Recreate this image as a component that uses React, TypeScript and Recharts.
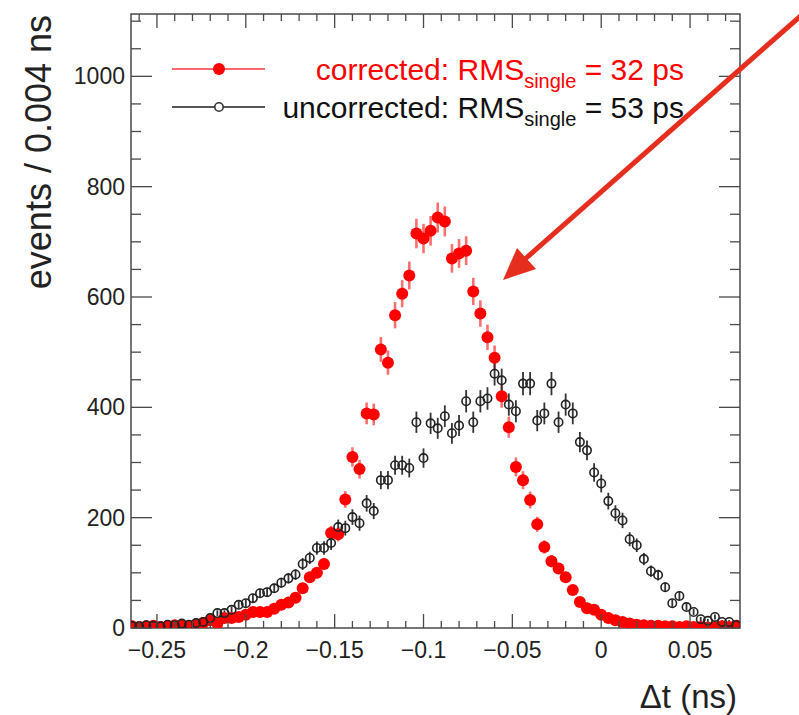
import React from 'react';
import { ScatterChart, Scatter, XAxis, YAxis, ErrorBar, ReferenceArea, Legend } from 'recharts';

// histogram binning: 0.004 ns bins, first bin centre at -0.264 ns
const binWidth = 0.004;
const firstBinCenter = -0.264;

// events per bin (86 bins, -0.264 ... 0.076)
const correctedCounts = [
  3, 2, 3, 4, 2, 3, 5, 4, 3, 6,
  9, 14, 8, 18, 18, 20, 24, 29, 29, 29,
  35, 42, 46, 55, 72, 92, 100, 116, 172, 170,
  233, 310, 288, 389, 387, 505, 481, 567, 606, 639,
  715, 706, 720, 744, 737, 670, 679, 684, 610, 570,
  527, 490, 420, 364, 292, 268, 232, 188, 147, 121,
  108, 92, 69, 47, 36, 33, 24, 18, 14, 11,
  8, 6, 5, 4, 4, 3, 3, 2, 3, 2,
  2, 1, 2, 3, 2, 4,
];

const uncorrectedCounts = [
  4, 3, 5, 4, 3, 6, 5, 8, 6, 9,
  11, 18, 27, 27, 33, 42, 45, 54, 63, 65,
  72, 82, 90, 97, 116, 127, 145, 145, 154, 183,
  181, 201, 190, 226, 212, 268, 268, 295, 295, 290,
  373, 308, 371, 362, 384, 353, 367, 411, 373, 411,
  416, 461, 449, 405, 393, 443, 443, 376, 389, 443,
  373, 405, 389, 337, 322, 282, 262, 230, 208, 195,
  161, 150, 125, 103, 96, 74, 45, 58, 38, 29,
  16, 13, 20, 11, 11, 5,
];

const seriesNames = ['corrected', 'uncorrected'];
const rmsSingle = [32, 53];

const xMajorTicks = [-0.25, -0.2, -0.15, -0.1, -0.05, 0, 0.05];
const xMajorLabels = ['\u22120.25', '\u22120.2', '\u22120.15', '\u22120.1', '\u22120.05', '0', '0.05'];
const yMajorTicks = [0, 200, 400, 600, 800, 1000];
const yMajorLabels = ['0', '200', '400', '600', '800', '1000'];

const X_DOMAIN: [number, number] = [-0.2646, 0.0781];
const Y_DOMAIN: [number, number] = [0, 1113];

// minor tick grid (0.01 ns on x, 50 events on y)
const xTicks = Array.from({ length: 34 }, (_, i) => Math.round((-0.26 + i * 0.01) * 1000) / 1000);
const yTicks = Array.from({ length: 23 }, (_, i) => i * 50);

const W = 799;
const H = 715;
const PLOT_LEFT = 131;
const PLOT_RIGHT = 740;
const PLOT_TOP = 14;
const PLOT_BOTTOM = 628;
const PLOT_W = PLOT_RIGHT - PLOT_LEFT;
const PLOT_H = PLOT_BOTTOM - PLOT_TOP;

const FONT = '"Liberation Sans", Arial, Helvetica, sans-serif';
const FRAME = '#4a4a4a';
const RED = '#ff0000';

function toPoints(counts: number[]) {
  return counts.map((n, i) => ({
    x: Math.round((firstBinCenter + i * binWidth) * 10000) / 10000,
    y: n,
    err: Math.sqrt(n),
  }));
}

const correctedData = toPoints(correctedCounts);
const uncorrectedData = toPoints(uncorrectedCounts);

function majorIndex(list: number[], v: number) {
  return list.findIndex((m) => Math.abs(m - v) < 1e-6);
}

function XTick(props: any) {
  const { x, y, payload } = props;
  const idx = majorIndex(xMajorTicks, payload.value);
  const len = idx >= 0 ? 14 : 7;
  const top = y - PLOT_H;
  return (
    <g>
      <line x1={x} x2={x} y1={y} y2={y - len} stroke={FRAME} strokeWidth={1.3} />
      <line x1={x} x2={x} y1={top} y2={top + len} stroke={FRAME} strokeWidth={1.3} />
      {idx >= 0 && (
        <text x={x} y={y + 30} textAnchor="middle" fontSize={23} fontFamily={FONT} fill="#222">
          {xMajorLabels[idx]}
        </text>
      )}
    </g>
  );
}

function YTick(props: any) {
  const { x, y, payload } = props;
  const idx = majorIndex(yMajorTicks, payload.value);
  const len = idx >= 0 ? 21 : 10;
  const right = x + PLOT_W;
  return (
    <g>
      <line x1={x} x2={x + len} y1={y} y2={y} stroke={FRAME} strokeWidth={1.3} />
      <line x1={right} x2={right - len} y1={y} y2={y} stroke={FRAME} strokeWidth={1.3} />
      {idx >= 0 && (
        <text x={x - 6} y={y + 8} textAnchor="end" fontSize={23} fontFamily={FONT} fill="#222">
          {yMajorLabels[idx]}
        </text>
      )}
    </g>
  );
}

function YTitle() {
  return (
    <text
      x={51}
      y={PLOT_TOP + 1}
      transform={`rotate(-90, 51, ${PLOT_TOP + 1})`}
      textAnchor="end"
      fontSize={36}
      fontFamily={FONT}
      fill="#222"
    >
      events / 0.004 ns
    </text>
  );
}

function XTitle() {
  return (
    <text x={PLOT_RIGHT - 3} y={708} textAnchor="end" fontSize={33} fontFamily={FONT} fill="#222">
      Δt (ns)
    </text>
  );
}

const filledDot = (p: any) => <circle cx={p.cx} cy={p.cy} r={6} fill={RED} />;
const openDot = (p: any) => (
  <circle cx={p.cx} cy={p.cy} r={4.2} fill="none" stroke="#222" strokeWidth={1.6} />
);

function LegendBox() {
  const rows = [
    { y: 69, color: RED, line: '#ff6a6a', filled: true },
    { y: 107, color: '#111', line: '#555', filled: false },
  ];
  return (
    <svg width={W} height={140}>
      {rows.map((r, i) => (
        <g key={seriesNames[i]}>
          <line x1={172} x2={265} y1={r.y} y2={r.y} stroke={r.line} strokeWidth={2} />
          {r.filled ? (
            <circle cx={219} cy={r.y} r={6} fill={RED} />
          ) : (
            <circle cx={219} cy={r.y} r={4.2} fill="#fff" stroke="#333" strokeWidth={1.6} />
          )}
          <text x={684} y={r.y + 11} textAnchor="end" fontSize={30} fontFamily={FONT} fill={r.color}>
            {seriesNames[i]}: RMS
            <tspan fontSize={20} dy={8}>single</tspan>
            <tspan dy={-8}>{` = ${rmsSingle[i]} ps`}</tspan>
          </text>
        </g>
      ))}
    </svg>
  );
}

function Arrow() {
  // annotation arrow pointing at the corrected peak
  return (
    <svg width={W} height={H} style={{ position: 'absolute', left: 0, top: 0, pointerEvents: 'none' }}>
      <line x1={805} y1={12} x2={524} y2={260} stroke="#e62e1f" strokeWidth={5} />
      <polygon points="503,280 536,269 517,248" fill="#e62e1f" />
    </svg>
  );
}

export default function App() {
  return (
    <div style={{ position: 'relative', width: W, height: H, background: '#fff' }}>
      <style>{'body{margin:0}'}</style>
      <ScatterChart width={W} height={H} margin={{ top: PLOT_TOP, right: W - PLOT_RIGHT, bottom: 27, left: 0 }}>
        <XAxis
          type="number"
          dataKey="x"
          domain={X_DOMAIN}
          ticks={xTicks}
          interval={0}
          tickSize={0}
          tickMargin={0}
          tickLine={false}
          axisLine={false}
          tick={<XTick />}
          height={60}
          allowDataOverflow
          label={<XTitle />}
        />
        <YAxis
          type="number"
          dataKey="y"
          domain={Y_DOMAIN}
          ticks={yTicks}
          interval={0}
          tickSize={0}
          tickMargin={0}
          tickLine={false}
          axisLine={false}
          tick={<YTick />}
          width={PLOT_LEFT}
          allowDataOverflow
          label={<YTitle />}
        />
        <ReferenceArea
          x1={X_DOMAIN[0]}
          x2={X_DOMAIN[1]}
          y1={Y_DOMAIN[0]}
          y2={Y_DOMAIN[1]}
          fill="none"
          stroke={FRAME}
          strokeWidth={1.5}
        />
        <Legend
          verticalAlign="middle"
          align="center"
          layout="horizontal"
          content={() => <LegendBox />}
          wrapperStyle={{ position: 'absolute', left: 0, top: 0, width: W, height: 140 }}
        />
        <Scatter
          name={seriesNames[0]}
          data={correctedData}
          fill={RED}
          shape={filledDot}
          isAnimationActive={false}
        >
          <ErrorBar dataKey="err" direction="y" width={0} stroke="#ff6f6f" strokeWidth={2.6} />
        </Scatter>
        <Scatter
          name={seriesNames[1]}
          data={uncorrectedData}
          fill="#222"
          shape={openDot}
          isAnimationActive={false}
        >
          <ErrorBar dataKey="err" direction="y" width={0} stroke="#333" strokeWidth={1.8} />
        </Scatter>
      </ScatterChart>
      <Arrow />
    </div>
  );
}
